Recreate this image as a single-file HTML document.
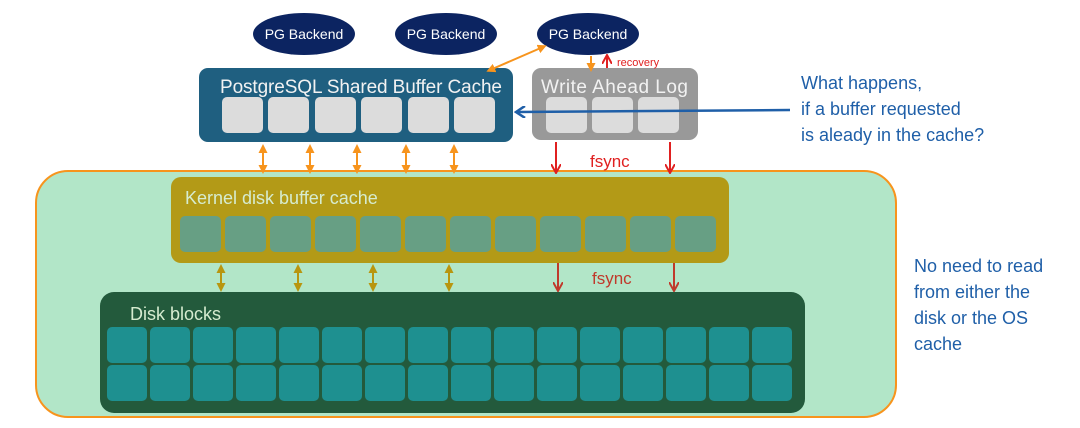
<!DOCTYPE html>
<html><head><meta charset="utf-8"><style>
html,body{margin:0;padding:0;background:#fff;width:1080px;height:428px;overflow:hidden}
text{font-family:"Liberation Sans",sans-serif}
</style></head><body>
<svg width="1080" height="428" viewBox="0 0 1080 428" xmlns="http://www.w3.org/2000/svg">
<defs>
<marker id="ao" markerWidth="9" markerHeight="9" refX="5" refY="4.5" orient="auto-start-reverse" markerUnits="userSpaceOnUse"><path d="M0,0 L9,4.5 L0,9 Z" fill="#f7941d"/></marker>
<marker id="ak" markerWidth="9" markerHeight="9" refX="5" refY="4.5" orient="auto-start-reverse" markerUnits="userSpaceOnUse"><path d="M0,0 L9,4.5 L0,9 Z" fill="#b8960f"/></marker>
<marker id="ar" markerWidth="10" markerHeight="10" refX="8" refY="5" orient="auto" markerUnits="userSpaceOnUse"><path d="M0,0 L9,5 L0,10" fill="none" stroke="#e02020" stroke-width="2"/></marker>
<marker id="ad" markerWidth="10" markerHeight="10" refX="8" refY="5" orient="auto" markerUnits="userSpaceOnUse"><path d="M0,0 L9,5 L0,10" fill="none" stroke="#c0392b" stroke-width="2"/></marker>
<marker id="ab" markerWidth="12" markerHeight="12" refX="9" refY="6" orient="auto" markerUnits="userSpaceOnUse"><path d="M1,0 L10,6 L1,12" fill="none" stroke="#1f5fa8" stroke-width="2.5"/></marker>
</defs>
<rect x="36" y="171" width="860" height="246" rx="32" fill="#b2e6c8" stroke="#f7941d" stroke-width="2"/>
<g fill="#0c2461">
<ellipse cx="304" cy="34" rx="51" ry="21"/>
<ellipse cx="446" cy="34" rx="51" ry="21"/>
<ellipse cx="588" cy="34" rx="51" ry="21"/>
</g>
<g fill="#fff" font-size="14" text-anchor="middle">
<text x="304" y="39">PG Backend</text>
<text x="446" y="39">PG Backend</text>
<text x="588" y="39">PG Backend</text>
</g>
<rect x="199" y="68" width="314" height="74" rx="9" fill="#1f5f80"/>
<text x="220" y="93" font-size="19" fill="#f2f2f2" textLength="282">PostgreSQL Shared Buffer Cache</text>
<g fill="#dcdcdc">
<rect x="222" y="97" width="41" height="36" rx="5"/>
<rect x="268" y="97" width="41" height="36" rx="5"/>
<rect x="315" y="97" width="41" height="36" rx="5"/>
<rect x="361" y="97" width="41" height="36" rx="5"/>
<rect x="408" y="97" width="41" height="36" rx="5"/>
<rect x="454" y="97" width="41" height="36" rx="5"/>
</g>
<rect x="532" y="68" width="166" height="72" rx="9" fill="#999999"/>
<text x="541" y="93" font-size="19" fill="#f2f2f2" textLength="147">Write Ahead Log</text>
<g fill="#dcdcdc">
<rect x="546" y="97" width="41" height="36" rx="5"/>
<rect x="592" y="97" width="41" height="36" rx="5"/>
<rect x="638" y="97" width="41" height="36" rx="5"/>
</g>
<line x1="543" y1="47" x2="490" y2="70" stroke="#f7941d" stroke-width="2" marker-start="url(#ao)" marker-end="url(#ao)"/>
<line x1="591" y1="56" x2="591" y2="68" stroke="#f7941d" stroke-width="2" marker-end="url(#ao)"/>
<line x1="607" y1="68" x2="607" y2="56" stroke="#e02020" stroke-width="2" marker-end="url(#ar)"/>
<text x="617" y="66" font-size="11" fill="#e02020">recovery</text>
<g stroke="#f7941d" stroke-width="2" marker-start="url(#ao)" marker-end="url(#ao)">
<line x1="263" y1="148" x2="263" y2="170"/>
<line x1="310" y1="148" x2="310" y2="170"/>
<line x1="357" y1="148" x2="357" y2="170"/>
<line x1="406" y1="148" x2="406" y2="170"/>
<line x1="454" y1="148" x2="454" y2="170"/>
</g>
<g stroke="#e02020" stroke-width="2" marker-end="url(#ar)">
<line x1="556" y1="142" x2="556" y2="172"/>
<line x1="670" y1="142" x2="670" y2="172"/>
</g>
<text x="590" y="167" font-size="17" fill="#e02020">fsync</text>
<line x1="790" y1="110" x2="517" y2="112" stroke="#1f5fa8" stroke-width="2.5" marker-end="url(#ab)"/>
<g fill="#1f5fa8" font-size="18">
<text x="801" y="89">What happens,</text>
<text x="801" y="115">if a buffer requested</text>
<text x="801" y="141">is aleady in the cache?</text>
<text x="914" y="272">No need to read</text>
<text x="914" y="298">from either the</text>
<text x="914" y="324">disk or the OS</text>
<text x="914" y="350">cache</text>
</g>
<rect x="171" y="177" width="558" height="86" rx="10" fill="#b39a17"/>
<text x="185" y="204" font-size="18" fill="#d6ecd0">Kernel disk buffer cache</text>
<g fill="#679f84">
<rect x="180" y="216" width="41" height="36" rx="5"/><rect x="225" y="216" width="41" height="36" rx="5"/>
<rect x="270" y="216" width="41" height="36" rx="5"/><rect x="315" y="216" width="41" height="36" rx="5"/>
<rect x="360" y="216" width="41" height="36" rx="5"/><rect x="405" y="216" width="41" height="36" rx="5"/>
<rect x="450" y="216" width="41" height="36" rx="5"/><rect x="495" y="216" width="41" height="36" rx="5"/>
<rect x="540" y="216" width="41" height="36" rx="5"/><rect x="585" y="216" width="41" height="36" rx="5"/>
<rect x="630" y="216" width="41" height="36" rx="5"/><rect x="675" y="216" width="41" height="36" rx="5"/>
</g>
<g stroke="#b8960f" stroke-width="2" marker-start="url(#ak)" marker-end="url(#ak)">
<line x1="221" y1="268" x2="221" y2="288"/>
<line x1="298" y1="268" x2="298" y2="288"/>
<line x1="373" y1="268" x2="373" y2="288"/>
<line x1="449" y1="268" x2="449" y2="288"/>
</g>
<g stroke="#c0392b" stroke-width="2" marker-end="url(#ad)">
<line x1="558" y1="263" x2="558" y2="290"/>
<line x1="674" y1="263" x2="674" y2="290"/>
</g>
<text x="592" y="284" font-size="17" fill="#c0392b">fsync</text>
<rect x="100" y="292" width="705" height="121" rx="14" fill="#235a3c"/>
<text x="130" y="320" font-size="18" fill="#d6ecd0">Disk blocks</text>
<g fill="#1e9090" id="row">
<rect x="107" y="327" width="40" height="36" rx="5"/><rect x="150" y="327" width="40" height="36" rx="5"/>
<rect x="193" y="327" width="40" height="36" rx="5"/><rect x="236" y="327" width="40" height="36" rx="5"/>
<rect x="279" y="327" width="40" height="36" rx="5"/><rect x="322" y="327" width="40" height="36" rx="5"/>
<rect x="365" y="327" width="40" height="36" rx="5"/><rect x="408" y="327" width="40" height="36" rx="5"/>
<rect x="451" y="327" width="40" height="36" rx="5"/><rect x="494" y="327" width="40" height="36" rx="5"/>
<rect x="537" y="327" width="40" height="36" rx="5"/><rect x="580" y="327" width="40" height="36" rx="5"/>
<rect x="623" y="327" width="40" height="36" rx="5"/><rect x="666" y="327" width="40" height="36" rx="5"/>
<rect x="709" y="327" width="40" height="36" rx="5"/><rect x="752" y="327" width="40" height="36" rx="5"/>
</g>
<use href="#row" y="38"/>
</svg>
</body></html>
